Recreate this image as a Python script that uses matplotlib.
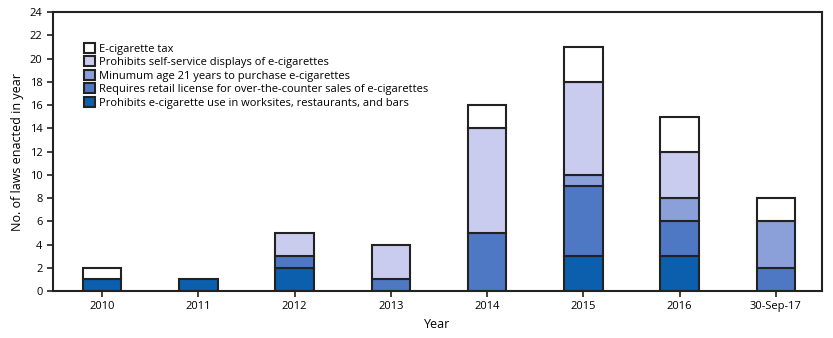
import matplotlib

matplotlib.use("Agg")

import matplotlib.pyplot as plt
import numpy as np

YEARS = ["2010", "2011", "2012", "2013", "2014", "2015", "2016", "30-Sep-17"]
WORKSITES = [1, 1, 2, 0, 0, 3, 3, 0]
RETAIL_LICENSE = [0, 0, 1, 1, 5, 6, 3, 2]
MIN_AGE_21 = [0, 0, 0, 0, 0, 1, 2, 4]
SELF_SERVICE = [0, 0, 2, 3, 9, 8, 4, 0]
TAX = [1, 0, 0, 0, 2, 3, 3, 2]

SERIES = [
    (WORKSITES, "#0b5fad", "Prohibits e-cigarette use in worksites, restaurants, and bars"),
    (RETAIL_LICENSE, "#4f78c4", "Requires retail license for over-the-counter sales of e-cigarettes"),
    (MIN_AGE_21, "#8ba0d8", "Minumum age 21 years to purchase e-cigarettes"),
    (SELF_SERVICE, "#c9ccef", "Prohibits self-service displays of e-cigarettes"),
    (TAX, "#ffffff", "E-cigarette tax"),
]

plt.rcParams["font.family"] = ["Open Sans", "DejaVu Sans"]

fig = plt.figure(figsize=(8.33, 3.38), dpi=100)
ax = fig.add_axes([0.0636, 0.139, 0.9232, 0.8255])

x = np.arange(len(YEARS))
bottom = np.zeros(len(YEARS))
handles = []
for vals, color, label in SERIES:
    vals = np.array(vals, dtype=float)
    mask = vals > 0
    bars = ax.bar(x[mask], vals[mask], width=0.4, bottom=bottom[mask], color=color,
                  edgecolor="#222222", linewidth=1.5, label=label)
    handles.append(bars)
    bottom += vals

ax.set_xlim(-0.51, 7.48)
ax.set_ylim(0, 24)
ax.set_yticks(range(0, 25, 2))
ax.set_xticks(x)
ax.set_xticklabels(YEARS)
ax.tick_params(labelsize=8, length=4, width=1.2, color="#222222")
for s in ax.spines.values():
    s.set_linewidth(1.5)
    s.set_color("#222222")
ax.set_xlabel("Year", fontsize=9, labelpad=4)
ax.set_ylabel("No. of laws enacted in year", fontsize=9, labelpad=4)

leg = ax.legend(handles[::-1], [h.get_label() for h in handles[::-1]], loc="upper left",
                bbox_to_anchor=(0.034, 0.905), frameon=False, fontsize=8,
                handlelength=1.0, handleheight=1.0, handletextpad=0.4, labelspacing=0.15,
                borderaxespad=0)

fig.savefig("out.png", dpi=100)
